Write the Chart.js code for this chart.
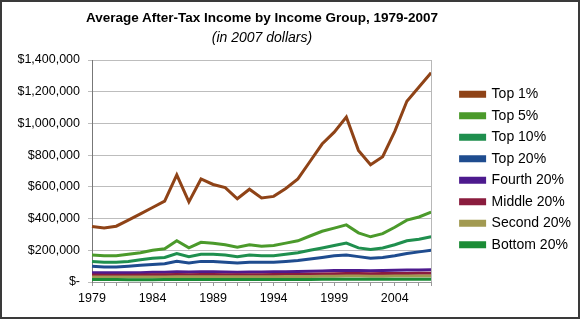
<!DOCTYPE html>
<html>
<head>
<meta charset="utf-8">
<script src="https://cdn.jsdelivr.net/npm/chart.js@4.4.1/dist/chart.umd.min.js"></script>
<style>
  html, body { margin: 0; padding: 0; background: #fff; }
  #frame {
    position: relative; width: 580px; height: 319px; box-sizing: border-box;
    border: 2px solid #3a3a3a; background: #fff;
    font-family: "Liberation Sans", Arial, sans-serif;
  }
  #title, #subtitle {
    position: absolute; left: 0; width: 520px; text-align: center; color: #000;
  }
  #title { top: 8px; font-size: 13.5px; font-weight: bold; }
  #subtitle { top: 27px; font-size: 14px; font-style: italic; }
  #chart { position: absolute; left: 0; top: 0; }
</style>
</head>
<body>
<div id="frame">
  <canvas id="chart" width="576" height="315"></canvas>
  <div id="title">Average After-Tax Income by Income Group, 1979-2007</div>
  <div id="subtitle">(in 2007 dollars)</div>
</div>
<script>
// years on the x axis
const years = [];
for (let y = 1979; y <= 2007; y++) years.push(String(y));

// average after-tax income, 2007 dollars
const top1 = [350000, 340000, 352000, 390000, 430000, 470000, 510000, 675000, 505000, 650000,
              615000, 595000, 525000, 585000, 530000, 540000, 590000, 650000, 760000, 870000,
              945000, 1040000, 830000, 740000, 790000, 950000, 1140000, 1230000, 1320000];
const top5 = [170000, 165000, 165000, 175000, 185000, 200000, 210000, 260000, 215000, 250000,
              245000, 235000, 220000, 235000, 225000, 230000, 245000, 260000, 290000, 320000,
              340000, 360000, 310000, 285000, 305000, 345000, 390000, 410000, 440000];
const top10 = [130000, 125000, 125000, 130000, 140000, 150000, 155000, 180000, 160000, 175000,
               175000, 170000, 160000, 170000, 165000, 165000, 175000, 185000, 200000, 215000,
               230000, 245000, 215000, 205000, 215000, 235000, 260000, 270000, 285000];
const top20 = [100000, 95000, 95000, 100000, 105000, 110000, 115000, 130000, 120000, 130000,
               130000, 125000, 120000, 125000, 125000, 125000, 130000, 135000, 145000, 155000,
               165000, 170000, 160000, 150000, 155000, 165000, 180000, 190000, 200000];
const fourth20 = [59000, 58000, 58000, 58000, 59000, 61000, 62000, 64000, 63000, 64000,
                  64000, 63000, 62000, 63000, 63000, 64000, 65000, 66000, 68000, 70000,
                  72000, 73000, 72000, 71000, 72000, 74000, 75000, 76000, 78000];
const middle20 = [44000, 43000, 43000, 43000, 44000, 45000, 46000, 47000, 46000, 47000,
                  47000, 46000, 46000, 46000, 46000, 47000, 47000, 48000, 49000, 50000,
                  52000, 53000, 53000, 52000, 53000, 54000, 54000, 55000, 55000];
const second20 = [32000, 31000, 31000, 31000, 31000, 32000, 32000, 33000, 33000, 33000,
                  33000, 33000, 33000, 33000, 33000, 33000, 34000, 34000, 35000, 36000,
                  37000, 38000, 38000, 37000, 37000, 38000, 38000, 38000, 38000];
const bottom20 = [15000, 15000, 15000, 14000, 14000, 14000, 15000, 15000, 15000, 15000,
                  15000, 15000, 15000, 15000, 15000, 15000, 16000, 16000, 16000, 17000,
                  17000, 17000, 17000, 17000, 17000, 17000, 17000, 17000, 18000];

const seriesNames = ['Top 1%', 'Top 5%', 'Top 10%', 'Top 20%', 'Fourth 20%', 'Middle 20%', 'Second 20%', 'Bottom 20%'];
const seriesData = [top1, top5, top10, top20, fourth20, middle20, second20, bottom20];
const seriesColors = ['#8f4317', '#4b9a2b', '#1f8f4e', '#1f4c8f', '#4d1a8e', '#8a1c3e', '#a29a52', '#1b8c36'];

const yTicks = [0, 200000, 400000, 600000, 800000, 1000000, 1200000, 1400000];

function fmtMoney(v) {
  if (v === 0) return '$-';
  return '$' + v.toLocaleString('en-US');
}

// gray line on the right edge of the plot
const plotEdge = {
  id: 'plotEdge',
  afterDraw(chart) {
    const { ctx, chartArea } = chart;
    ctx.save();
    ctx.strokeStyle = '#b8b8b8';
    ctx.lineWidth = 1;
    ctx.beginPath();
    ctx.moveTo(Math.round(chartArea.right) + 0.5, chartArea.top);
    ctx.lineTo(Math.round(chartArea.right) + 0.5, chartArea.bottom);
    ctx.stroke();
    ctx.restore();
  }
};

// nudge the legend block: a bit right of the plot, and up
const legendNudge = {
  id: 'legendNudge',
  afterLayout(chart) {
    const lg = chart.legend;
    if (!lg) return;
    lg.left += 22; lg.right += 22;
    lg.top -= 19; lg.bottom -= 19;
  }
};

const font = { family: '"Liberation Sans", Arial, sans-serif', size: 12.5 };

new Chart(document.getElementById('chart'), {
  type: 'line',
  data: {
    labels: years,
    datasets: seriesNames.map((name, i) => ({
      label: name,
      data: seriesData[i],
      borderColor: seriesColors[i],
      backgroundColor: seriesColors[i],
      borderWidth: 3,
      pointRadius: 0,
      tension: 0,
      fill: false
    })).reverse()
  },
  options: {
    responsive: false,
    animation: false,
    layout: { padding: { top: 58, left: 0, right: 19, bottom: 0 } },
    plugins: {
      legend: {
        position: 'right',
        reverse: true,
        labels: {
          color: '#000',
          font: { family: font.family, size: 14 },
          boxWidth: 24,
          boxHeight: 4,
          padding: 7.5
        }
      },
      tooltip: { enabled: false }
    },
    scales: {
      x: {
        offset: false,
        grid: { display: true, drawOnChartArea: false, color: '#999', tickLength: 4 },
        border: { color: '#999' },
        ticks: {
          color: '#000', font: font, maxRotation: 0, autoSkip: false, padding: 5,
          callback: function(val, idx) { return idx % 5 === 0 ? years[idx] : ''; }
        },
        afterFit: s => { s.height = 35; }
      },
      y: {
        min: 0, max: 1400000,
        afterBuildTicks: s => { s.ticks = yTicks.map(v => ({ value: v })); },
        grid: { color: '#bdbdbd', tickLength: 4 },
        border: { color: '#777' },
        ticks: { color: '#000', font: font, padding: 8, callback: v => fmtMoney(v) },
        afterFit: s => { s.width = 90; }
      }
    }
  },
  plugins: [plotEdge, legendNudge]
});
</script>
</body>
</html>
